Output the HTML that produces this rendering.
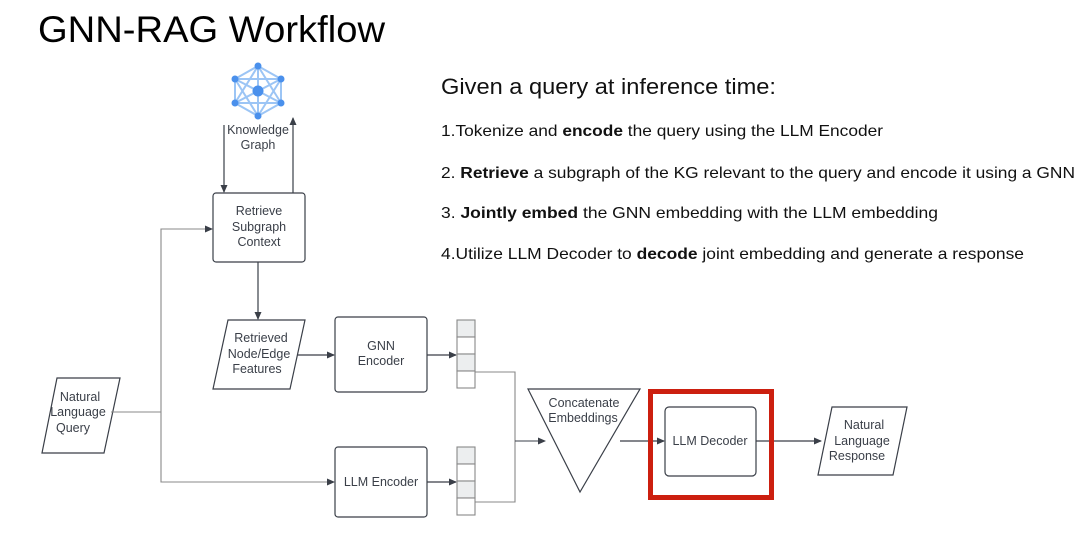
<!DOCTYPE html>
<html><head><meta charset="utf-8"><style>
body{margin:0;background:#fff}
svg text{font-family:"Liberation Sans",sans-serif}
</style></head><body>
<svg width="1080" height="532" viewBox="0 0 1080 532" xmlns="http://www.w3.org/2000/svg">
<defs><marker id="a" markerWidth="8" markerHeight="8" refX="7" refY="4" orient="auto" markerUnits="userSpaceOnUse"><path d="M0,0.5 L8,4 L0,7.5z" fill="#3a3f48"/></marker></defs>
<text x="38" y="42" font-size="37" fill="#000" textLength="347" lengthAdjust="spacingAndGlyphs">GNN-RAG Workflow</text>
<text x="441" y="94" font-size="22" fill="#111" textLength="335" lengthAdjust="spacingAndGlyphs">Given a query at inference time:</text>
<g font-size="16" fill="#111">
<text x="441" y="136" textLength="442" lengthAdjust="spacingAndGlyphs">1.Tokenize and <tspan font-weight="bold">encode</tspan> the query using the LLM Encoder</text>
<text x="441" y="178" textLength="634" lengthAdjust="spacingAndGlyphs">2. <tspan font-weight="bold">Retrieve</tspan> a subgraph of the KG relevant to the query and encode it using a GNN</text>
<text x="441" y="218" textLength="497" lengthAdjust="spacingAndGlyphs">3. <tspan font-weight="bold">Jointly embed</tspan> the GNN embedding with the LLM embedding</text>
<text x="441" y="259" textLength="583" lengthAdjust="spacingAndGlyphs">4.Utilize LLM Decoder to <tspan font-weight="bold">decode</tspan> joint embedding and generate a response</text>
</g>
<g stroke="#9cc5f5" stroke-width="2" fill="none">
<polygon points="258,66 281,79 281,103 258,116 235,103 235,79"/>
<line x1="258" y1="66" x2="258" y2="116"/><line x1="235" y1="79" x2="281" y2="103"/><line x1="281" y1="79" x2="235" y2="103"/>
<line x1="258" y1="66" x2="235" y2="103"/><line x1="258" y1="66" x2="281" y2="103"/><line x1="258" y1="116" x2="235" y2="79"/><line x1="258" y1="116" x2="281" y2="79"/>
<line x1="235" y1="79" x2="281" y2="79"/><line x1="235" y1="103" x2="281" y2="103"/>
</g>
<g fill="#4a90ec"><circle cx="258" cy="66" r="3.5"/><circle cx="281" cy="79" r="3.5"/><circle cx="281" cy="103" r="3.5"/><circle cx="258" cy="116" r="3.5"/><circle cx="235" cy="103" r="3.5"/><circle cx="235" cy="79" r="3.5"/><circle cx="258" cy="91" r="5.5"/></g>
<g font-size="12.5" fill="#3a3f48" text-anchor="middle">
<text x="258" y="134">Knowledge</text><text x="258" y="149">Graph</text>
</g>
<g stroke="#3a3f48" stroke-width="1.2" fill="none">
<line x1="224" y1="125" x2="224" y2="192" marker-end="url(#a)"/>
<line x1="293" y1="193" x2="293" y2="118" marker-end="url(#a)"/>
<rect x="213" y="193" width="92" height="69" rx="3"/>
<line x1="258" y1="262" x2="258" y2="319" marker-end="url(#a)"/>
<path d="M228,320 L305,320 L290,389 L213,389 Z"/>
<rect x="335" y="317" width="92" height="75" rx="3"/>
<rect x="335" y="447" width="92" height="70" rx="3"/>
<path d="M57,378 L120,378 L104,453 L42,453 Z"/>
<line x1="297" y1="355" x2="334" y2="355" marker-end="url(#a)"/>
<line x1="427" y1="355" x2="456" y2="355" marker-end="url(#a)"/>
<line x1="427" y1="482" x2="456" y2="482" marker-end="url(#a)"/>
</g>
<g stroke="#888" stroke-width="1.1" fill="none">
<line x1="111" y1="412" x2="161" y2="412"/>
<path d="M212,229 L161,229 L161,482 L334,482" />
<path d="M475,372 L515,372 L515,502 L475,502"/>
<line x1="515" y1="441" x2="545" y2="441" stroke="#3a3f48" marker-end="url(#a)"/>
</g>
<line x1="161" y1="229" x2="212" y2="229" stroke="#888" marker-end="url(#a)"/>
<line x1="300" y1="482" x2="334" y2="482" stroke="#888" marker-end="url(#a)"/>
<g stroke="#888" stroke-width="1.1">
<rect x="457" y="320" width="18" height="17" fill="#eceeef"/><rect x="457" y="337" width="18" height="17" fill="#fff"/><rect x="457" y="354" width="18" height="17" fill="#eceeef"/><rect x="457" y="371" width="18" height="17" fill="#fff"/>
<rect x="457" y="447" width="18" height="17" fill="#eceeef"/><rect x="457" y="464" width="18" height="17" fill="#fff"/><rect x="457" y="481" width="18" height="17" fill="#eceeef"/><rect x="457" y="498" width="18" height="17" fill="#fff"/>
</g>
<g stroke="#3a3f48" stroke-width="1.2" fill="none">
<path d="M528,389 L640,389 L580,492 Z" fill="#fff"/>
<line x1="620" y1="441" x2="664" y2="441" marker-end="url(#a)"/>
<rect x="665" y="407" width="91" height="69" rx="4"/>
<line x1="756" y1="441" x2="821" y2="441" marker-end="url(#a)"/>
<path d="M832,407 L907,407 L893,475 L818,475 Z"/>
</g>
<rect x="650.5" y="391.5" width="121" height="106" fill="none" stroke="#cc1f0f" stroke-width="5"/>
<g font-size="12.5" fill="#3a3f48" text-anchor="middle">
<text x="259" y="215">Retrieve</text><text x="259" y="231">Subgraph</text><text x="259" y="246">Context</text>
<text x="261" y="342">Retrieved</text><text x="259" y="358">Node/Edge</text><text x="257" y="373">Features</text>
<text x="381" y="350">GNN</text><text x="381" y="365">Encoder</text>
<text x="381" y="486">LLM Encoder</text>
<text x="80" y="401">Natural</text><text x="78" y="416">Language</text><text x="73" y="432">Query</text>
<text x="584" y="407">Concatenate</text><text x="583" y="422">Embeddings</text>
<text x="710" y="445">LLM Decoder</text>
<text x="864" y="429">Natural</text><text x="862" y="445">Language</text><text x="857" y="460">Response</text>
</g>
</svg>
</body></html>
